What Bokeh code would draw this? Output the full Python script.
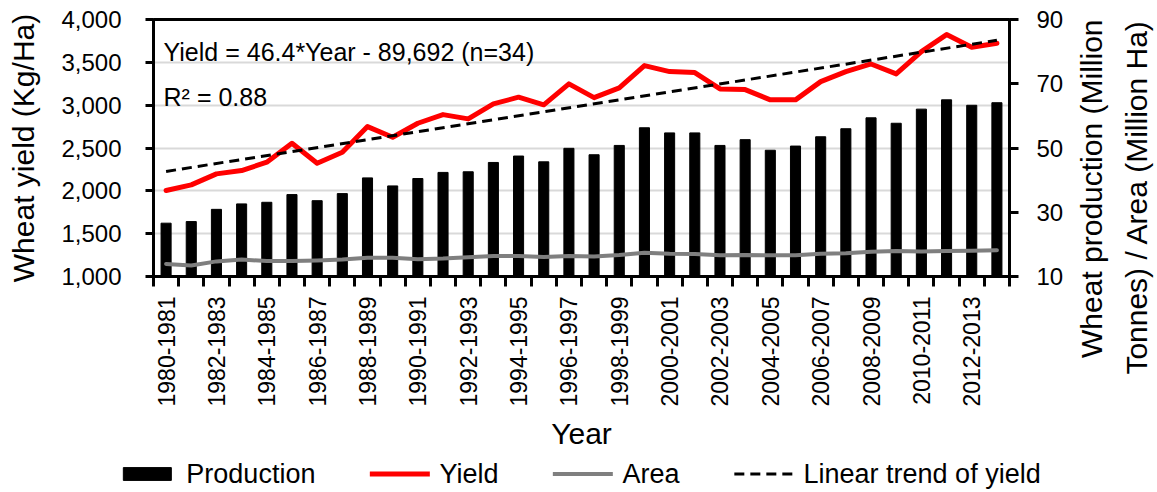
import math

from bokeh.embed import file_html
from bokeh.layouts import column, row
from bokeh.models import (FixedTicker, Grid, Label, Legend, LegendItem, LinearAxis,
                          NumeralTickFormatter, Range1d, Title)
from bokeh.plotting import figure
from bokeh.resources import INLINE

# Wheat statistics by crop season
seasons = [
    "1980-1981", "1981-1982", "1982-1983", "1983-1984", "1984-1985", "1985-1986",
    "1986-1987", "1987-1988", "1988-1989", "1989-1990", "1990-1991", "1991-1992",
    "1992-1993", "1993-1994", "1994-1995", "1995-1996", "1996-1997", "1997-1998",
    "1998-1999", "1999-2000", "2000-2001", "2001-2002", "2002-2003", "2003-2004",
    "2004-2005", "2005-2006", "2006-2007", "2007-2008", "2008-2009", "2009-2010",
    "2010-2011", "2011-2012", "2012-2013", "2013-2014",
]
# Production, million tonnes (right axis)
production = [
    26.6, 27.1, 30.9, 32.6, 33.1, 35.5, 33.6, 35.8, 40.7, 38.2, 40.5, 42.4,
    42.6, 45.5, 47.5, 45.7, 49.9, 47.9, 50.8, 56.3, 54.7, 54.7, 50.8, 52.6,
    49.3, 50.6, 53.5, 56.0, 59.4, 57.7, 62.1, 65.0, 63.3, 64.1,
]
# Yield, kg/ha (left axis)
yield_kg_ha = [
    2004, 2070, 2198, 2237, 2334, 2556, 2322, 2450, 2750, 2626, 2789, 2890,
    2840, 3015, 3093, 3004, 3249, 3088, 3202, 3462, 3392, 3380, 3190, 3182,
    3062, 3062, 3275, 3392, 3481, 3365, 3625, 3824, 3676, 3723,
]
# Harvested area, million ha (right axis)
area = [
    13.9, 13.4, 14.7, 15.3, 14.8, 14.8, 15.0, 15.3, 15.8, 15.8, 15.4, 15.6,
    16.0, 16.4, 16.4, 16.1, 16.4, 16.2, 16.7, 17.4, 17.1, 17.0, 16.6, 16.7,
    16.6, 16.6, 17.1, 17.2, 17.7, 17.9, 17.8, 17.9, 18.0, 18.2,
]
# Fitted linear trend of yield against the season's end year
trend_slope = 46.4
trend_intercept = -89692
r_squared = 0.88

yield_ticks = [1000, 1500, 2000, 2500, 3000, 3500, 4000]
right_ticks = [10, 30, 50, 70, 90]
right_title_lines = ["Wheat production (Million", "Tonnes) / Area (Million Ha)"]
legend_labels = ["Production", "Yield", "Area", "Linear trend of yield"]

FONT = "Liberation Sans"
BAR_COLOR = "black"
YIELD_COLOR = "#ff0000"
AREA_COLOR = "#7f7f7f"
TREND_DASH = "10 6"

# Overall page geometry
PAGE_W, PAGE_H = 1157, 492
LEFT, FRAME_W, RIGHT = 153, 856, 56
TOP, FRAME_H, BOTTOM = 19, 257, 179
MAIN_W = LEFT + FRAME_W + RIGHT
MAIN_H = TOP + FRAME_H + BOTTOM

idx = list(range(len(seasons)))
end_years = [int(s.split("-")[1]) for s in seasons]
trend_x = [idx[0], idx[-1]]
trend_y = [trend_slope * end_years[0] + trend_intercept,
           trend_slope * end_years[-1] + trend_intercept]

p = figure(
    frame_width=FRAME_W, frame_height=FRAME_H,
    output_backend="svg", toolbar_location=None,
    x_range=Range1d(-0.5, len(seasons) - 0.5),
    y_range=Range1d(yield_ticks[0], yield_ticks[-1]),
    x_axis_location=None, y_axis_location=None,
    min_border_left=LEFT, min_border_right=RIGHT,
    min_border_top=TOP, min_border_bottom=BOTTOM,
    background_fill_color="white", border_fill_color="white",
)
p.extra_y_ranges = {"right": Range1d(right_ticks[0], right_ticks[-1])}
p.outline_line_color = "black"
p.outline_line_width = 3
p.xgrid.visible = False
p.ygrid.visible = False


def style_axis(ax, size="24px"):
    ax.axis_line_color = "black"
    ax.axis_line_width = 3
    ax.major_tick_line_color = "black"
    ax.major_tick_line_width = 3
    ax.minor_tick_line_color = None
    ax.major_label_text_font = FONT
    ax.major_label_text_font_size = size
    ax.major_label_text_color = "black"
    ax.axis_label_text_font = FONT
    ax.axis_label_text_font_size = "30px"
    ax.axis_label_text_font_style = "normal"
    ax.axis_label_text_color = "black"


left_axis = LinearAxis(
    ticker=FixedTicker(ticks=yield_ticks),
    formatter=NumeralTickFormatter(format="0,0"),
    axis_label="Wheat yield (Kg/Ha)",
)
style_axis(left_axis)
left_axis.major_tick_out = 8
left_axis.major_tick_in = 0
left_axis.major_label_standoff = 24
left_axis.axis_label_standoff = 18
p.add_layout(left_axis, "left")

right_axis = LinearAxis(y_range_name="right", ticker=FixedTicker(ticks=right_ticks))
style_axis(right_axis)
right_axis.major_tick_out = 9
right_axis.major_tick_in = 0
right_axis.major_label_standoff = 18
p.add_layout(right_axis, "right")

# Tick marks on the season boundaries
bounds = [i - 0.5 for i in range(len(seasons) + 1)]
boundary_axis = LinearAxis(
    ticker=FixedTicker(ticks=bounds),
    major_label_overrides={b: "" for b in bounds},
)
style_axis(boundary_axis)
boundary_axis.major_tick_out = 10
boundary_axis.major_tick_in = 0
boundary_axis.major_label_standoff = 0
p.add_layout(boundary_axis, "below")

# Season names, every second season
label_pos = idx[::2]
season_axis = LinearAxis(
    ticker=FixedTicker(ticks=label_pos),
    major_label_overrides={i: seasons[i] for i in label_pos},
    axis_label="Year",
)
style_axis(season_axis, "23px")
season_axis.axis_line_color = None
season_axis.major_tick_line_color = None
season_axis.major_tick_out = 0
season_axis.major_tick_in = 0
season_axis.major_label_orientation = math.pi / 2
season_axis.major_label_standoff = 10
season_axis.axis_label_standoff = 8
p.add_layout(season_axis, "below")

p.add_layout(Grid(dimension=1, ticker=left_axis.ticker,
                  grid_line_color="#d9d9d9", grid_line_width=2))

p.vbar(x=idx, top=production, bottom=right_ticks[0], width=0.4,
       y_range_name="right", fill_color=BAR_COLOR, line_color=BAR_COLOR)
p.line(idx, area, y_range_name="right", line_color=AREA_COLOR,
       line_width=4, line_join="round", line_cap="round")
p.line(idx, yield_kg_ha, line_color=YIELD_COLOR, line_width=5,
       line_join="round", line_cap="round")
p.line(trend_x, trend_y, line_color="black", line_width=3, line_dash=TREND_DASH)

eq_text = f"Yield = {trend_slope}*Year - {abs(trend_intercept):,} (n={len(seasons)})"
p.add_layout(Label(x=-0.1, y=3615, text=eq_text, text_font=FONT,
                   text_font_size="25px", text_color="black",
                   text_baseline="alphabetic"))
p.add_layout(Label(x=-0.1, y=3101, text=f"R\u00b2 = {r_squared}", text_font=FONT,
                   text_font_size="25px", text_color="black",
                   text_baseline="alphabetic"))

# Narrow strip holding the two-line title of the right-hand scale
title_w = PAGE_W - MAIN_W
pt = figure(
    width=title_w, height=MAIN_H,
    output_backend="svg", toolbar_location=None,
    x_range=Range1d(0, 1), y_range=Range1d(0, 1),
    x_axis_location=None, y_axis_location=None,
    min_border_left=0, min_border_right=0,
    min_border_top=TOP, min_border_bottom=BOTTOM,
    outline_line_color=None,
    background_fill_color="white", border_fill_color="white",
)
pt.xgrid.visible = False
pt.ygrid.visible = False
# inner line first (next to the strip's frame), outer line last;
# both lines hang down from the top edge of the frame
for line_text, gap in zip(reversed(right_title_lines), [6, 13]):
    pt.add_layout(Title(text=line_text, align="right",
                        text_font=FONT, text_font_size="30px",
                        text_font_style="normal", text_color="black",
                        standoff=gap), "left")

# Legend strip along the bottom; the keys reuse the series, hidden
leg_h = PAGE_H - MAIN_H
pl = figure(
    width=PAGE_W, height=leg_h,
    output_backend="svg", toolbar_location=None,
    x_range=Range1d(-0.5, len(seasons) - 0.5), y_range=Range1d(0, 1),
    x_axis_location=None, y_axis_location=None,
    min_border=0, outline_line_color=None,
    background_fill_color="white", border_fill_color="white",
)
pl.xgrid.visible = False
pl.ygrid.visible = False
key_bar = pl.vbar(x=idx, top=production, width=0.4,
                  fill_color=BAR_COLOR, line_color=BAR_COLOR, visible=False)
key_yield = pl.line(idx, yield_kg_ha, line_color=YIELD_COLOR, line_width=5,
                    line_cap="round", visible=False)
key_area = pl.line(idx, area, line_color=AREA_COLOR, line_width=4,
                   line_cap="round", visible=False)
key_trend = pl.line(trend_x, trend_y, line_color="black", line_width=3,
                    line_dash=TREND_DASH, visible=False)

legend = Legend(
    items=[LegendItem(label=lab, renderers=[r]) for lab, r in
           zip(legend_labels, [key_bar, key_yield, key_area, key_trend])],
    orientation="horizontal",
    location="center",
    label_text_font=FONT,
    label_text_font_size="27px",
    label_text_color="black",
    glyph_width=60,
    glyph_height=16,
    label_standoff=10,
    spacing=54,
    padding=0,
    margin=0,
    border_line_color=None,
    background_fill_alpha=0,
    inactive_fill_alpha=0,
)
pl.add_layout(legend, "center")

layout = column(row(p, pt, spacing=0), pl, spacing=0)
open("out.html", "w").write(file_html(layout, INLINE))
